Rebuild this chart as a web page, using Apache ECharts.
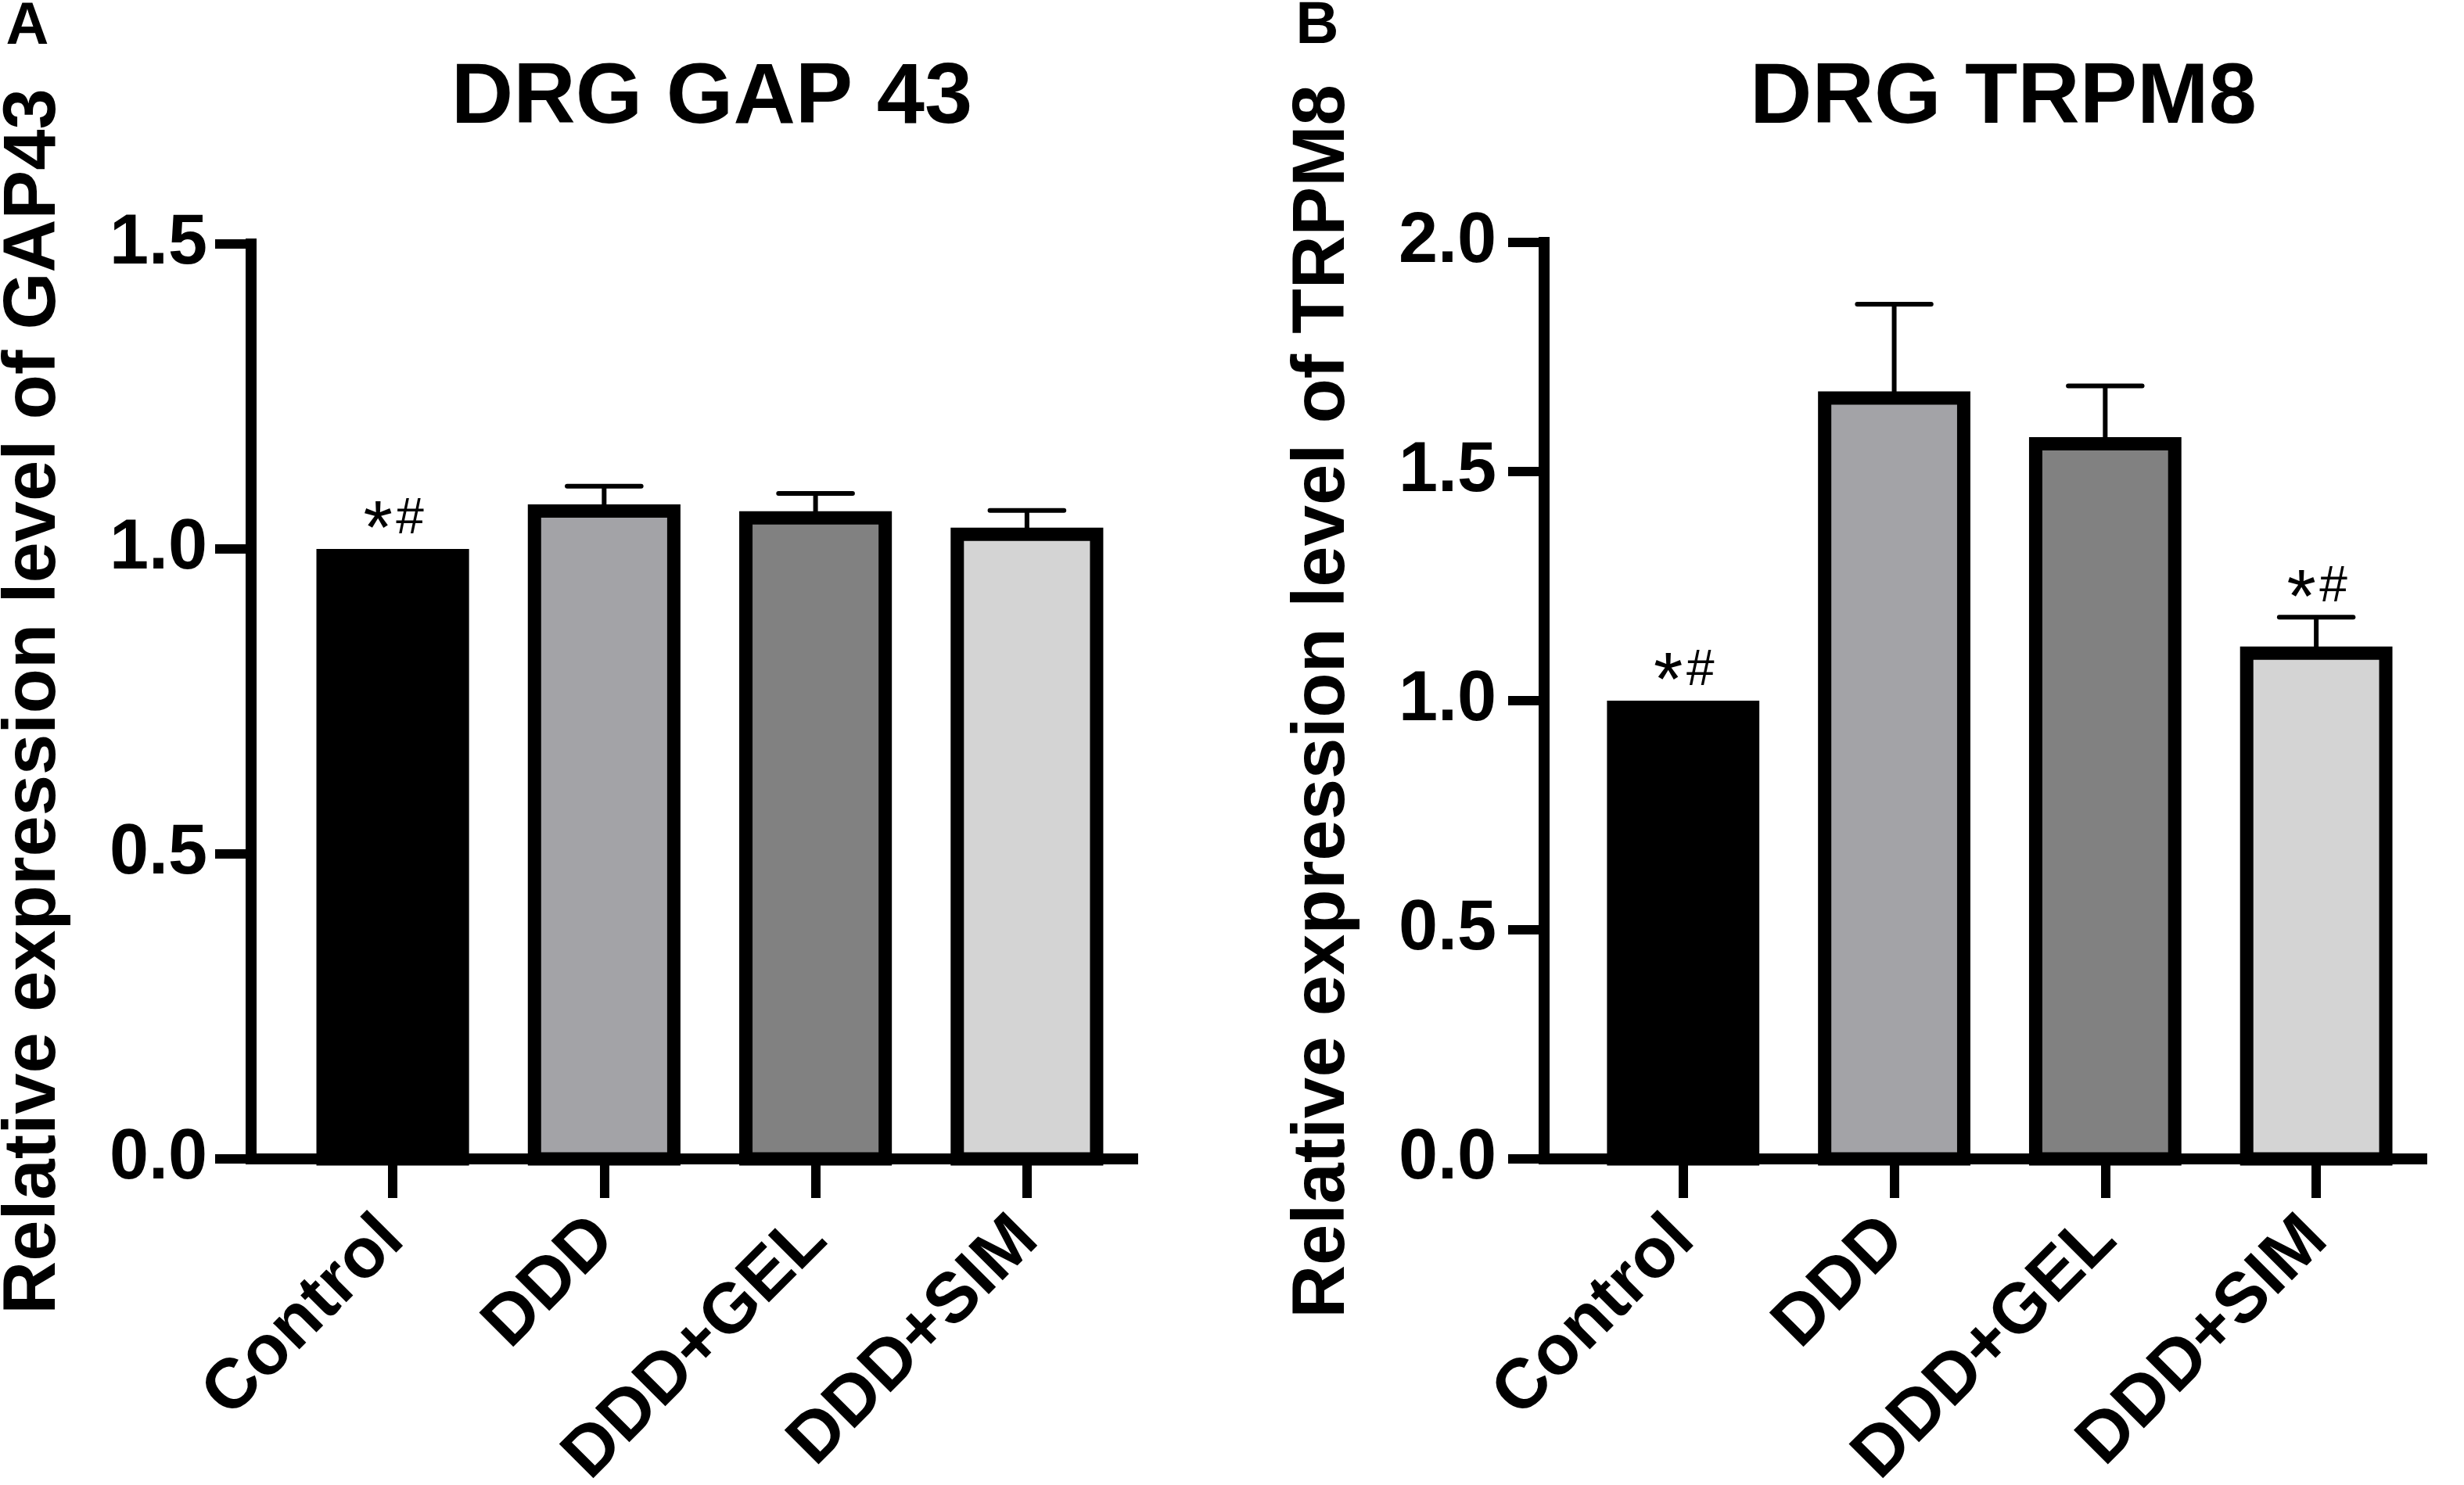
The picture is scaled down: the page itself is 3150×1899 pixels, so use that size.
<!DOCTYPE html>
<html>
<head>
<meta charset="utf-8">
<script src="https://cdn.jsdelivr.net/npm/echarts@6/dist/echarts.min.js"></script>
<style>
html,body{margin:0;padding:0;background:#fff;}
#chart{width:3150px;height:1899px;}
</style>
</head>
<body>
<div id="chart"></div>
<script>
// ---- data ----
const categories = ['Control', 'DDD', 'DDD+GEL', 'DDD+SIM'];
const gapMeans   = [1.000, 1.073, 1.062, 1.035];
const gapErrors  = [0, 0.030, 0.029, 0.028];
const gapMarks   = ['*#', '', '', ''];
const trpmMeans  = [1.000, 1.675, 1.575, 1.118];
const trpmErrors = [0, 0.190, 0.112, 0.064];
const trpmMarks  = ['*#', '', '', '*#'];
const gapTicks   = [0, 0.5, 1.0, 1.5];
const trpmTicks  = [0, 0.5, 1.0, 1.5, 2.0];
const barColors  = ['#000000', '#a3a3a7', '#818181', '#d4d4d4'];

const FONT = '"Liberation Sans", Arial, Helvetica, sans-serif';
const BAR_RATIO = 0.722;
const CAP_RATIO = 0.35;
const BORDER = 17;

function makeRender(marks) {
  return function (params, api) {
    const i = params.dataIndex;
    const xv = api.value(0), v = api.value(1), e = api.value(2);
    const base = api.coord([xv, 0]);
    const top = api.coord([xv, v]);
    const unit = api.size([1, 0])[0];
    const W = unit * BAR_RATIO, bw = BORDER;
    const cx = top[0];
    const children = [{
      type: 'rect',
      shape: { x: cx - W / 2 + bw / 2, y: top[1] + bw / 2, width: W - bw, height: base[1] - top[1] - bw / 2 },
      style: { fill: barColors[i], stroke: '#000', lineWidth: bw }
    }];
    let refY = top[1];
    if (e > 0) {
      const et = api.coord([xv, v + e]);
      const capW = unit * CAP_RATIO;
      children.push({ type: 'line', shape: { x1: cx, y1: top[1] + bw / 2, x2: cx, y2: et[1] }, style: { stroke: '#000', lineWidth: 6 } });
      children.push({ type: 'line', shape: { x1: cx - capW / 2, y1: et[1], x2: cx + capW / 2, y2: et[1] }, style: { stroke: '#000', lineWidth: 6, lineCap: 'round' } });
      refY = et[1];
    }
    if (marks[i]) {
      const star = marks[i].charAt(0), hash = marks[i].slice(1);
      children.push({
        type: 'text', x: cx - 19, y: refY - 21,
        style: { text: star, font: '96px ' + FONT, fill: '#000', align: 'center', verticalAlign: 'middle', textAlign: 'center', textVerticalAlign: 'middle' }
      });
      children.push({
        type: 'text', x: cx + 22, y: refY - 38,
        style: { text: hash, font: '64px ' + FONT, fill: '#000', align: 'center', verticalAlign: 'middle', textAlign: 'center', textVerticalAlign: 'middle' }
      });
    }
    return { type: 'group', children: children };
  };
}

function yAxisOf(gi, ticks, margin) {
  return {
    type: 'value', gridIndex: gi, min: ticks[0], max: ticks[ticks.length - 1], interval: 0.5,
    axisLine: { show: true, onZero: false, lineStyle: { color: '#000', width: 14, cap: 'square' } },
    axisTick: { show: true, length: 46, lineStyle: { color: '#000', width: 12 } },
    axisLabel: { fontSize: 90, fontWeight: 'bold', fontFamily: FONT, color: '#000', margin: margin,
      formatter: function (v) { return v.toFixed(1); } },
    splitLine: { show: false }
  };
}

function xAxisOf(gi, min) {
  return {
    type: 'value', gridIndex: gi, min: min, max: 3.5,
    axisLine: { show: true, onZero: false, lineStyle: { color: '#000', width: 14, cap: 'square' } },
    axisTick: { show: true, customValues: [0, 1, 2, 3], length: 50, lineStyle: { color: '#000', width: 12 } },
    axisLabel: { customValues: [0, 1, 2, 3], rotate: 45, fontSize: 90, fontWeight: 'bold', fontFamily: FONT,
      color: '#000', margin: 89, align: 'right', verticalAlign: 'middle',
      formatter: function (v) { return categories[Math.round(v)]; } },
    splitLine: { show: false }
  };
}

function seriesData(means, errors) {
  return means.map(function (m, i) { return [i, m, errors[i]]; });
}

function txt(text, x, y, size, rot, weight) {
  return {
    type: 'text', x: x, y: y, rotation: rot || 0,
    style: { text: text, font: (weight || 'bold') + ' ' + size + 'px ' + FONT, fill: '#000',
      textAlign: 'center', textVerticalAlign: 'middle', align: 'center', verticalAlign: 'middle' }
  };
}

const chart = echarts.init(document.getElementById('chart'));
chart.setOption({
  backgroundColor: '#fff',
  animation: false,
  grid: [
    { left: 321, top: 312, width: 1127, height: 1170, containLabel: false, outerBoundsMode: 'none' },
    { left: 1974, top: 310, width: 1122, height: 1172, containLabel: false, outerBoundsMode: 'none' }
  ],
  xAxis: [xAxisOf(0, -0.67), xAxisOf(1, -0.659)],
  yAxis: [yAxisOf(0, gapTicks, 56), yAxisOf(1, trpmTicks, 61)],
  series: [
    { type: 'custom', xAxisIndex: 0, yAxisIndex: 0, clip: false, encode: { x: 0, y: 1 },
      renderItem: makeRender(gapMarks), data: seriesData(gapMeans, gapErrors) },
    { type: 'custom', xAxisIndex: 1, yAxisIndex: 1, clip: false, encode: { x: 0, y: 1 },
      renderItem: makeRender(trpmMarks), data: seriesData(trpmMeans, trpmErrors) }
  ],
  graphic: [
    txt('A', 35, 35, 76),
    txt('B', 1684, 34, 76),
    txt('DRG GAP 43', 910, 127, 110),
    txt('DRG TRPM8', 2561, 127, 110),
    txt('Relative expression level of GAP43', 44, 897, 94, Math.PI / 2),
    txt('Relative expression level of TRPM8', 1692, 897, 94, Math.PI / 2)
  ]
});
</script>
</body>
</html>
